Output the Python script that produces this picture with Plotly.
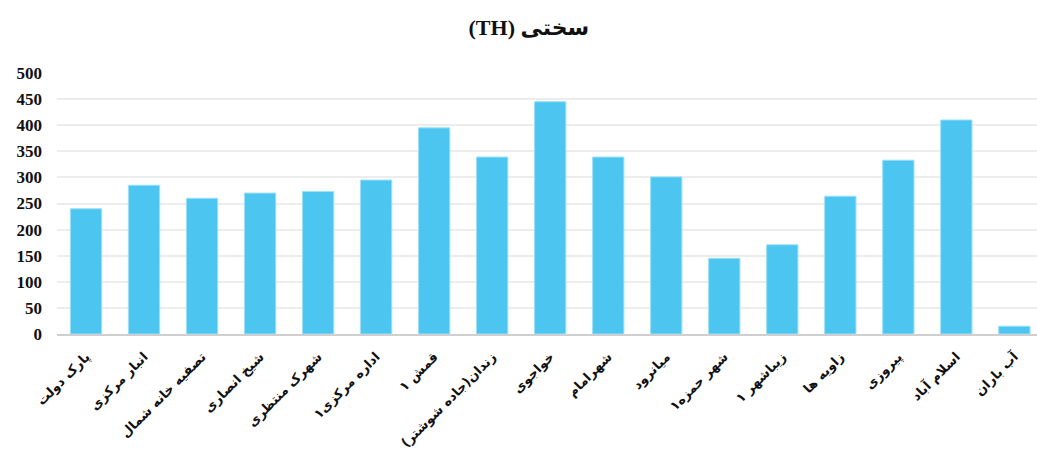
import plotly.graph_objects as go

# Sampling stations and total hardness (TH) values
stations = [
    "پارک دولت",
    "انبار مرکزی",
    "تصفیه خانه شمال",
    "شیخ انصاری",
    "شهرک منتظری",
    "اداره مرکزی۱",
    "قمش ۱",
    "زندان(جاده شوشتر)",
    "خواجوی",
    "شهرامام",
    "میانرود",
    "شهر حمزه۱",
    "زیباشهر ۱",
    "زاویه ها",
    "پیروزی",
    "اسلام آباد",
    "آب باران",
]
hardness = [240, 285, 260, 270, 273, 295, 395, 339, 445, 339, 301, 145, 171, 264, 333, 410, 15]

y_ticks = [0, 50, 100, 150, 200, 250, 300, 350, 400, 450, 500]

fig = go.Figure(
    go.Bar(
        x=list(range(len(stations))),
        y=hardness,
        width=0.54,
        marker=dict(color="#4CC6F1", line=dict(color="#9EE0F8", width=1)),
    )
)

fig.update_layout(
    width=1037,
    height=456,
    margin=dict(l=57, r=0, t=73, b=122),
    paper_bgcolor="white",
    plot_bgcolor="white",
    showlegend=False,
    title=dict(
        text="<b>(TH) سختی</b>",
        x=0.51,
        xanchor="center",
        y=0.94,
        yanchor="middle",
        font=dict(family="Liberation Serif, DejaVu Sans", size=22, color="#111111"),
    ),
    xaxis=dict(
        tickmode="array",
        tickvals=list(range(len(stations))),
        ticktext=[f"<b>{s}</b>" for s in stations],
        tickangle=-45,
        range=[-0.5, 16.39],
        showgrid=False,
        showline=True,
        linecolor="#CFCFCF",
        linewidth=2,
        ticks="",
        ticklabelstandoff=8,
        tickfont=dict(family="DejaVu Sans", size=13, color="#111111"),
    ),
    yaxis=dict(
        range=[0, 500],
        tickmode="array",
        tickvals=y_ticks,
        ticktext=[f"<b>{v}</b>" for v in y_ticks],
        showgrid=True,
        gridcolor="#EDEDED",
        gridwidth=1.5,
        zeroline=False,
        showline=False,
        ticks="",
        ticklabelstandoff=14,
        tickfont=dict(family="Liberation Serif", size=17, color="#111111"),
    ),
)

fig.write_html("out.html")
